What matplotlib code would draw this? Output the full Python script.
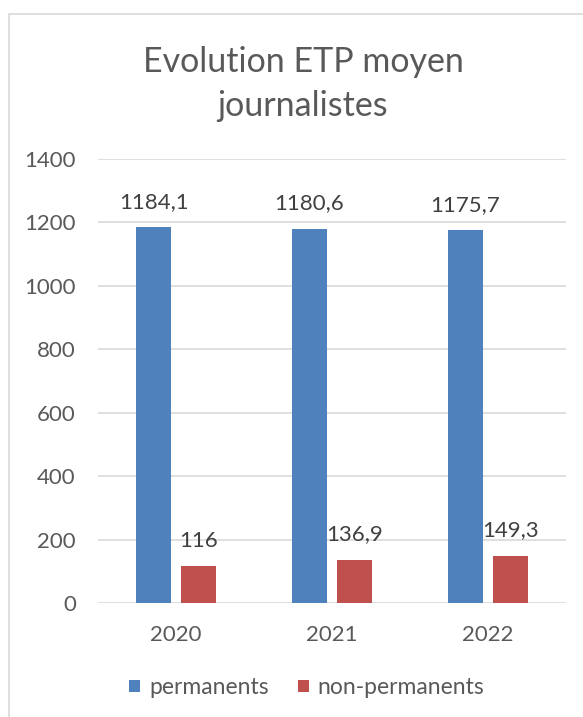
import matplotlib.pyplot as plt
from matplotlib.patches import Rectangle
import numpy as np

# Data
years = ['2020', '2021', '2022']
permanents = [1184.1, 1180.6, 1175.7]
non_permanents = [116, 136.9, 149.3]

blue = '#4F81BD'
red = '#C0504D'
text_col = '#595959'
grid_col = '#D9D9D9'

plt.rcParams['font.family'] = ['Lato', 'DejaVu Sans']

W, H = 583, 717
fig = plt.figure(figsize=(W / 100, H / 100), dpi=100)

# chart area border
fig.add_artist(Rectangle((9 / W, -0.05), 1.0, 1 - 14 / H + 0.05,
                         transform=fig.transFigure, fill=False,
                         edgecolor='#D9D9D9', linewidth=1.2))

ax = fig.add_axes([98 / W, 1 - 603 / H, (566 - 98) / W, (603 - 159) / H])

x = np.arange(len(years))
bw = 0.224
gap = 0.064
b1 = ax.bar(x - (bw + gap) / 2, permanents, bw, color=blue, label='permanents', zorder=3)
b2 = ax.bar(x + (bw + gap) / 2, non_permanents, bw, color=red, label='non-permanents', zorder=3)


def fmt(v):
    s = f'{v:g}'
    return s.replace('.', ',')


for bars, vals in [(b1, permanents), (b2, non_permanents)]:
    for b, v in zip(bars, vals):
        ax.annotate(fmt(v), (b.get_x() + b.get_width() / 2, v),
                    xytext=(0, 11), textcoords='offset points',
                    ha='center', va='bottom', fontsize=16, color='#404040')

ax.set_xlim(-0.5, 2.5)
ax.set_ylim(0, 1400)
ax.set_yticks(range(0, 1401, 200))
ax.set_xticks(x)
ax.set_xticklabels(years)
ax.tick_params(axis='both', length=0, labelsize=16, labelcolor=text_col)
ax.tick_params(axis='y', pad=16)
ax.tick_params(axis='x', pad=16)
ax.yaxis.grid(True, color=grid_col, linewidth=1.2, zorder=0)
for s in ax.spines.values():
    s.set_visible(False)

fig.text(303 / W, 1 - 84 / H, 'Evolution ETP moyen\njournalistes', ha='center', va='center',
         fontsize=24.5, color=text_col, linespacing=1.45)

fig.legend(loc='center', bbox_to_anchor=(307 / W, 1 - 688 / H), ncol=2, frameon=False,
           fontsize=16.5, labelcolor=text_col, handlelength=0.45, handleheight=0.45,
           handletextpad=0.4, columnspacing=1.3)

fig.savefig('out.png', dpi=100)
